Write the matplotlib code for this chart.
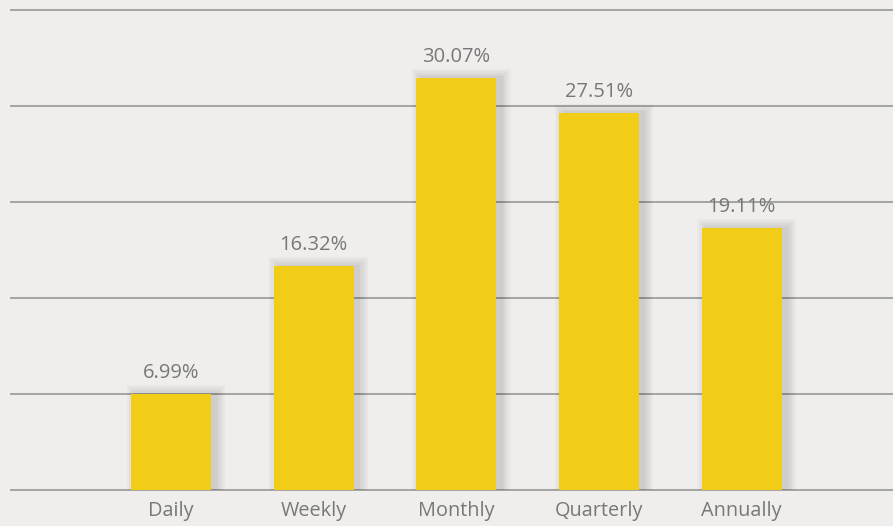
import matplotlib.pyplot as plt

categories = ["Daily", "Weekly", "Monthly", "Quarterly", "Annually"]
shares = [6.99, 16.32, 30.07, 27.51, 19.11]
grid_values = [0, 7, 14, 21, 28, 35]

BG = "#efeeec"
BAR = "#f2cd17"
TEXT = "#787878"
GRID = "#a3a3a3"

fig = plt.figure(figsize=(8.93, 5.26), dpi=100, facecolor=BG)
ax = fig.add_axes([11 / 893, 1 - 490 / 526, 882 / 893, 480 / 526])
ax.set_facecolor(BG)

x = list(range(len(categories)))

# Soft drop shadow: a few widening translucent layers behind the bars.
for grow in [0.13, 0.10, 0.07, 0.04, 0.02]:
    ax.bar([v + 0.035 for v in x], [s + grow * 5 for s in shares], width=0.56 + grow,
           color="#000000", alpha=0.028, zorder=2, linewidth=0)

ax.bar(x, shares, width=0.56, color=BAR, zorder=3, linewidth=0)

for xi, s in zip(x, shares):
    ax.annotate(f"{s:.2f}%", xy=(xi, s), xytext=(0, 8), textcoords="offset points",
                ha="center", va="bottom", fontsize=14.5, color=TEXT, family="Open Sans",
                zorder=5)

for g in grid_values:
    ax.axhline(g, color=GRID, linewidth=1.4, zorder=1, clip_on=False)

ax.set_xlim(-1.12, 4.06 + 1.0)
ax.set_ylim(0, 35)
ax.set_xticks(x)
ax.set_xticklabels(categories, fontsize=14.3, color=TEXT, family="Open Sans")
ax.tick_params(axis="x", length=0, pad=8)
ax.set_yticks([])
for spine in ax.spines.values():
    spine.set_visible(False)

fig.savefig("out.png", dpi=100, facecolor=BG)
